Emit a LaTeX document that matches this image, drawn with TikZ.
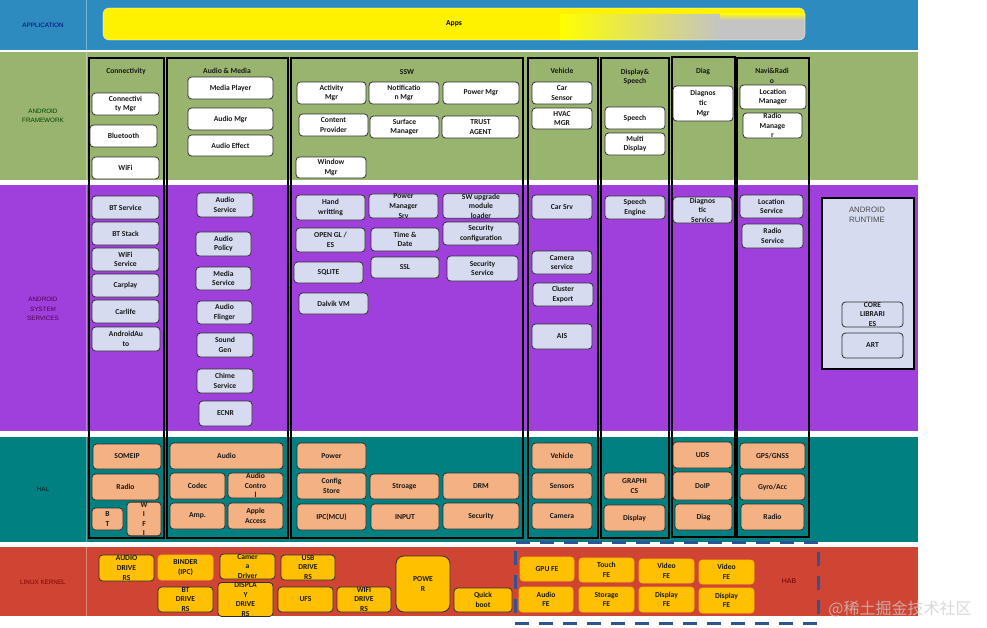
\documentclass[tikz,border=0pt]{standalone}
\usepackage{fontspec}
\setmainfont{Carlito}
\newfontfamily\arialf{Liberation Sans}
\newfontfamily\cjkf{Noto Sans CJK SC}
\definecolor{appblue}{HTML}{2E8BC0}
\definecolor{fwgreen}{HTML}{98B46E}
\definecolor{sspurple}{HTML}{A040DC}
\definecolor{halteal}{HTML}{008080}
\definecolor{krred}{HTML}{CF4433}
\definecolor{lav}{HTML}{D6DBF0}
\definecolor{salmon}{HTML}{F4B183}
\definecolor{kyel}{HTML}{FFC000}
\definecolor{habblue}{HTML}{2F5496}
\definecolor{bdr}{HTML}{303030}
\definecolor{barg}{HTML}{C4C4C4}
\newcommand\Bx[7]{\node[#1, minimum width={(#4-#2)*1pt}, minimum height={(#5-#3)*1pt}] (#6) at ({(#2+#4)/2},{(#3+#5)/2}) {#7};}
\tikzset{
  bxfont/.style={font=\bfseries\fontsize{7.6}{9.6}\selectfont},
  basebox/.style={draw=bdr, line width=0.8pt, rounded corners=3.5pt, inner sep=0pt, align=center, bxfont, text=black!90},
  fwb/.style={basebox, fill=white},
  ssb/.style={basebox, fill=lav},
  halb/.style={basebox, fill=salmon},
  krb/.style={basebox, fill=kyel},
  kro/.style={basebox, fill=kyel, draw=kyel!85!orange},
  feb/.style={basebox, fill=kyel, draw=kyel!90!orange},
  colf/.style={draw=black, line width=2.2pt, inner sep=0pt},
  ttl/.style={inner sep=0pt, align=center, bxfont, text=black!90},
  lbl/.style={inner sep=0pt, align=center, font=\arialf\fontsize{6.3}{9.5}\selectfont},
  sepl/.style={white, opacity=0.35, line width=0.6pt}
}
\begin{document}
\begin{tikzpicture}[x=1pt,y=-1pt]
\useasboundingbox (0,0) rectangle (987,627);
\fill[white] (0,0) rectangle (987,627);
% bands
\fill[appblue] (0,0) rectangle (918,50);
\fill[fwgreen] (0,52) rectangle (918,180);
\fill[sspurple] (0,185) rectangle (918,431);
\fill[halteal] (0,437) rectangle (918,542);
\fill[krred] (0,547) rectangle (918,616);
\draw[sepl] (86,0) -- (86,50);
\draw[sepl] (86,52) -- (86,180);
\draw[sepl] (86,185) -- (86,431);
\draw[sepl] (86,437) -- (86,542);
\draw[sepl] (86,547) -- (86,616);
% layer labels
\node[lbl, text=black!30!blue!60!black] (lApp) at (43,25) {APPLICATION};
\node[lbl, text=black!75!green] (lFw) at (43,116) {ANDROID\\FRAMEWORK};
\node[lbl, text=violet!60!black] (lSs) at (43,309) {ANDROID\\SYSTEM\\SERVICES};
\node[lbl, text=black!85!teal] (lHal) at (43,489) {HAL};
\node[lbl, text=red!50!black] (lKr) at (43,582) {LINUX KERNEL};
% apps bar
\begin{scope}
\clip[rounded corners=6pt] (103,8) rectangle (805,40);
\fill[yellow] (103,8) rectangle (805,40);
\shade[left color=yellow, right color=barg] (560,14) rectangle (720.5,40);
\fill[barg] (720,14) rectangle (806,40);
\shade[top color=yellow, bottom color=barg] (720,13) rectangle (806,20);
\end{scope}
\draw[white, opacity=0.5, line width=0.6pt, rounded corners=6pt] (103,8) rectangle (805,40);
\node[inner sep=0pt, bxfont] (apps) at (454,24) {Apps};
% column frames
\Bx{colf}{89}{58}{164}{538}{cConn}{}
\Bx{colf}{167}{58}{288}{538}{cAudio}{}
\Bx{colf}{291}{58}{523}{538}{cSSW}{}
\Bx{colf}{528}{58}{598}{538}{cVeh}{}
\Bx{colf}{601}{58}{669}{538}{cDisp}{}
\Bx{colf}{672}{57}{735}{537}{cDiag}{}
\Bx{colf}{737}{58}{809}{537}{cNavi}{}
% titles
\node[ttl] (tConn) at (126,71) {Connectivity};
\node[ttl] (tAudio) at (227,71) {Audio \& Media};
\node[ttl] (tSSW) at (407,72) {SSW};
\node[ttl] (tVeh) at (562,71) {Vehicle};
\node[ttl] (tDisp) at (635,77) {Display\&\\Speech};
\node[ttl] (tDiag) at (703,71) {Diag};
\node[ttl] (tNavi) at (772,76) {Navi\&Radi\\o};
% framework
\Bx{fwb}{92}{93}{159}{115}{fCM}{Connectivi\\ty Mgr}
\Bx{fwb}{90}{125}{157}{147}{fBT}{Bluetooth}
\Bx{fwb}{92}{157}{159}{179}{fWiFi}{WiFi}
\Bx{fwb}{188}{77}{273}{99}{fMP}{Media Player}
\Bx{fwb}{188}{108}{273}{130}{fAM}{Audio Mgr}
\Bx{fwb}{188}{135}{273}{156}{fAE}{Audio Effect}
\Bx{fwb}{297}{82}{366}{104}{fAct}{Activity\\Mgr}
\Bx{fwb}{369}{82}{439}{104}{fNot}{Notificatio\\n Mgr}
\Bx{fwb}{443}{82}{519}{104}{fPow}{Power Mgr}
\Bx{fwb}{299}{114}{368}{136}{fCP}{Content\\Provider}
\Bx{fwb}{370}{116}{439}{138}{fSM}{Surface\\Manager}
\Bx{fwb}{442}{116}{519}{138}{fTA}{TRUST\\AGENT}
\Bx{fwb}{296}{157}{366}{178}{fWM}{Window\\Mgr}
\Bx{fwb}{532}{82}{592}{104}{fCS}{Car\\Sensor}
\Bx{fwb}{532}{108}{592}{129}{fHV}{HVAC\\MGR}
\Bx{fwb}{605}{107}{665}{129}{fSp}{Speech}
\Bx{fwb}{605}{133}{665}{155}{fMD}{Multi\\Display}
\Bx{fwb}{673}{86}{733}{121}{fDM}{Diagnos\\tic\\Mgr}
\Bx{fwb}{740}{85}{806}{109}{fLM}{Location\\Manager}
\Bx{fwb}{743}{113}{802}{138}{fRM}{Radio\\Manage\\r}
% system services
\Bx{ssb}{92}{196}{159}{219}{sBTS}{BT Service}
\Bx{ssb}{92}{222}{159}{245}{sBTK}{BT Stack}
\Bx{ssb}{92}{248}{159}{271}{sWS}{WiFi\\Service}
\Bx{ssb}{92}{274}{159}{297}{sCP}{Carplay}
\Bx{ssb}{92}{300}{159}{323}{sCL}{Carlife}
\Bx{ssb}{92}{327}{160}{351}{sAA}{AndroidAu\\to}
\Bx{ssb}{197}{193}{253}{217}{sAS}{Audio\\Service}
\Bx{ssb}{196}{232}{251}{256}{sAP}{Audio\\Policy}
\Bx{ssb}{196}{267}{251}{290}{sMS}{Media\\Service}
\Bx{ssb}{197}{301}{252}{324}{sAF}{Audio\\Flinger}
\Bx{ssb}{197}{333}{253}{357}{sSG}{Sound\\Gen}
\Bx{ssb}{197}{369}{253}{393}{sCh}{Chime\\Service}
\Bx{ssb}{199}{401}{252}{426}{sEC}{ECNR}
\Bx{ssb}{296}{195}{365}{220}{sHW}{Hand\\writting}
\Bx{ssb}{369}{194}{438}{218}{sPM}{Power\\Manager\\Srv}
\Bx{ssb}{443}{194}{519}{218}{sSWU}{SW upgrade\\module\\loader}
\Bx{ssb}{296}{228}{365}{252}{sGL}{OPEN GL /\\ES}
\Bx{ssb}{371}{228}{439}{251}{sTD}{Time \&\\Date}
\Bx{ssb}{443}{222}{519}{245}{sSC}{Security\\configuration}
\Bx{ssb}{294}{262}{363}{283}{sSQ}{SQLITE}
\Bx{ssb}{371}{257}{439}{278}{sSSL}{SSL}
\Bx{ssb}{447}{256}{518}{281}{sSS}{Security\\Service}
\Bx{ssb}{299}{293}{368}{314}{sDV}{Dalvik VM}
\Bx{ssb}{532}{195}{592}{219}{sCar}{Car Srv}
\Bx{ssb}{532}{251}{592}{274}{sCam}{Camera\\service}
\Bx{ssb}{533}{283}{593}{306}{sCE}{Cluster\\Export}
\Bx{ssb}{532}{324}{592}{349}{sAIS}{AIS}
\Bx{ssb}{605}{196}{665}{219}{sSE}{Speech\\Engine}
\Bx{ssb}{673}{197}{732}{223}{sDS}{Diagnos\\tic\\Service}
\Bx{ssb}{740}{195}{803}{218}{sLS}{Location\\Service}
\Bx{ssb}{742}{224}{803}{248}{sRS}{Radio\\Service}
% android runtime
\node[draw=black, line width=2pt, fill=lav, inner sep=0pt, minimum width=92pt, minimum height=171pt] (art) at (868,283.5) {};
\node[inner sep=0pt, align=center, text=black!70, font=\arialf\fontsize{7.8}{10}\selectfont] (artT) at (867,215) {ANDROID\\RUNTIME};
\Bx{ssb}{842}{302}{903}{327}{sCore}{CORE\\LIBRARI\\ES}
\Bx{ssb}{842}{333}{903}{358}{sArtB}{ART}
% HAL
\Bx{halb}{93}{444}{161}{469}{hSOME}{SOMEIP}
\Bx{halb}{92}{474}{159}{500}{hRad}{Radio}
\Bx{halb}{92}{508}{123}{530}{hBT}{B\\T}
\Bx{halb}{127}{508}{161}{530}{hWIFI}{W\\I\\F\\I}
\Bx{halb}{170}{443}{283}{469}{hAud}{Audio}
\Bx{halb}{170}{473}{225}{499}{hCod}{Codec}
\Bx{halb}{228}{473}{283}{498}{hAC}{Audio\\Contro\\l}
\Bx{halb}{170}{503}{225}{529}{hAmp}{Amp.}
\Bx{halb}{228}{503}{283}{529}{hApp}{Apple\\Access}
\Bx{halb}{297}{443}{366}{469}{hPow}{Power}
\Bx{halb}{297}{473}{366}{499}{hCfg}{Config\\Store}
\Bx{halb}{297}{504}{366}{530}{hIPC}{IPC(MCU)}
\Bx{halb}{370}{474}{439}{499}{hStr}{Stroage}
\Bx{halb}{443}{473}{519}{499}{hDRM}{DRM}
\Bx{halb}{371}{504}{439}{530}{hIn}{INPUT}
\Bx{halb}{443}{503}{519}{529}{hSec}{Security}
\Bx{halb}{532}{443}{592}{469}{hVeh}{Vehicle}
\Bx{halb}{532}{473}{592}{499}{hSen}{Sensors}
\Bx{halb}{532}{503}{592}{529}{hCam}{Camera}
\Bx{halb}{604}{473}{665}{499}{hGr}{GRAPHI\\CS}
\Bx{halb}{604}{505}{665}{531}{hDis}{Display}
\Bx{halb}{673}{442}{732}{468}{hUDS}{UDS}
\Bx{halb}{673}{472}{732}{500}{hDoIP}{DoIP}
\Bx{halb}{675}{504}{732}{530}{hDiag}{Diag}
\Bx{halb}{740}{443}{805}{469}{hGPS}{GPS/GNSS}
\Bx{halb}{740}{474}{805}{500}{hGyro}{Gyro/Acc}
\Bx{halb}{741}{504}{804}{530}{hRad2}{Radio}
% kernel
\Bx{krb}{99}{555}{154}{581}{kAud}{AUDIO\\DRIVE\\RS}
\Bx{kro}{158}{555}{213}{580}{kBin}{BINDER\\(IPC)}
\Bx{krb}{220}{554}{275}{579}{kCam}{Camer\\a\\Driver}
\Bx{krb}{281}{555}{335}{580}{kUSB}{USB\\DRIVE\\RS}
\Bx{krb}{158}{587}{213}{612}{kBT}{BT\\DRIVE\\RS}
\Bx{krb}{218}{587}{273}{612}{kDisp}{DISPLA\\Y\\DRIVE\\RS}
\Bx{krb}{278}{587}{333}{612}{kUFS}{UFS}
\Bx{krb}{337}{587}{391}{612}{kWifi}{WIFI\\DRIVE\\RS}
\Bx{krb, rounded corners=8pt}{396}{556}{450}{612}{kPow}{POWE\\R}
\Bx{krb}{454}{588}{512}{612}{kQB}{Quick\\boot}
% HAB
\Bx{draw=habblue, line width=3pt, dash pattern=on 14pt off 10pt, inner sep=0pt}{515}{542}{818}{623}{hab}{}
\Bx{feb}{520}{557}{574}{581}{fGPU}{GPU FE}
\Bx{feb}{579}{558}{634}{582}{fTouch}{Touch\\FE}
\Bx{feb}{639}{559}{694}{583}{fVid1}{Video\\FE}
\Bx{feb}{699}{560}{754}{584}{fVid2}{Video\\FE}
\Bx{feb}{519}{587}{573}{612}{fAudFE}{Audio\\FE}
\Bx{feb}{579}{587}{634}{612}{fSto}{Storage\\FE}
\Bx{feb}{639}{587}{694}{612}{fDis1}{Display\\FE}
\Bx{feb}{699}{588}{754}{613}{fDis2}{Display\\FE}
\node[inner sep=0pt, text=red!45!black, font=\arialf\fontsize{7}{9}\selectfont] (habT) at (789,581) {HAB};
% watermark
\node[inner sep=0pt, text=gray!40, opacity=0.75, font=\cjkf\fontsize{16}{18}\selectfont] (wm) at (900,609) {@稀土掘金技术社区};
\end{tikzpicture}
\end{document}
